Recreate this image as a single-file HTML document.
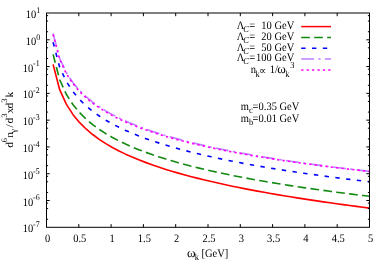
<!DOCTYPE html>
<html><head><meta charset="utf-8"><title>plot</title>
<style>
html,body{margin:0;padding:0;background:#fff;}
body{width:389px;height:273px;overflow:hidden;}
svg{display:block;}
text{font-family:"Liberation Serif",serif;fill:#000;text-rendering:geometricPrecision;}
</style></head><body>
<svg style="will-change:transform" width="389" height="273" viewBox="0 0 389 273">
<rect width="389" height="273" fill="#fff"/>

<g fill="none" stroke-width="1.62" stroke-linecap="butt" stroke-linejoin="round">
<path d="M53.09,64.37 L59.68,89.68 L66.28,104.12 L72.87,114.40 L79.46,122.40 L86.05,128.96 L92.64,134.52 L99.23,139.36 L105.83,143.63 L112.42,147.47 L119.01,150.95 L125.60,154.14 L132.19,157.09 L138.79,159.82 L145.38,162.37 L151.97,164.77 L158.56,167.02 L165.15,169.16 L171.74,171.18 L178.34,173.11 L184.93,174.95 L191.52,176.71 L198.11,178.39 L204.70,180.01 L211.30,181.57 L217.89,183.07 L224.48,184.52 L231.07,185.92 L237.66,187.27 L244.26,188.59 L250.85,189.86 L257.44,191.09 L264.03,192.30 L270.62,193.47 L277.21,194.61 L283.81,195.72 L290.40,196.80 L296.99,197.86 L303.58,198.89 L310.17,199.90 L316.77,200.88 L323.36,201.85 L329.95,202.80 L336.54,203.72 L343.13,204.63 L349.72,205.52 L356.32,206.40 L362.91,207.26 L369.50,208.10" stroke="#ff0000"/>
<path d="M53.09,54.38 L59.68,79.78 L66.28,94.26 L72.87,104.54 L79.46,112.54 L86.05,119.08 L92.64,124.62 L99.23,129.42 L105.83,133.67 L112.42,137.48 L119.01,140.93 L125.60,144.08 L132.19,146.98 L138.79,149.68 L145.38,152.19 L151.97,154.55 L158.56,156.76 L165.15,158.85 L171.74,160.83 L178.34,162.72 L184.93,164.51 L191.52,166.23 L198.11,167.87 L204.70,169.44 L211.30,170.95 L217.89,172.40 L224.48,173.81 L231.07,175.16 L237.66,176.47 L244.26,177.73 L250.85,178.96 L257.44,180.15 L264.03,181.30 L270.62,182.42 L277.21,183.51 L283.81,184.57 L290.40,185.61 L296.99,186.61 L303.58,187.60 L310.17,188.56 L316.77,189.49 L323.36,190.41 L329.95,191.31 L336.54,192.18 L343.13,193.04 L349.72,193.88 L356.32,194.71 L362.91,195.52 L369.50,196.31" stroke="#128a12" stroke-dasharray="8.63 4.36"/>
<path d="M53.09,42.25 L59.68,67.22 L66.28,81.45 L72.87,91.56 L79.46,99.41 L86.05,105.84 L92.64,111.28 L99.23,116.01 L105.83,120.18 L112.42,123.92 L119.01,127.31 L125.60,130.41 L132.19,133.27 L138.79,135.92 L145.38,138.39 L151.97,140.70 L158.56,142.88 L165.15,144.94 L171.74,146.89 L178.34,148.74 L184.93,150.50 L191.52,152.19 L198.11,153.80 L204.70,155.35 L211.30,156.83 L217.89,158.26 L224.48,159.64 L231.07,160.97 L237.66,162.26 L244.26,163.50 L250.85,164.71 L257.44,165.88 L264.03,167.01 L270.62,168.11 L277.21,169.19 L283.81,170.23 L290.40,171.25 L296.99,172.24 L303.58,173.21 L310.17,174.15 L316.77,175.07 L323.36,175.98 L329.95,176.86 L336.54,177.72 L343.13,178.57 L349.72,179.39 L356.32,180.20 L362.91,181.00 L369.50,181.78" stroke="#0000ff" stroke-dasharray="4.37 6.45"/>
<path d="M53.09,33.42 L59.68,58.33 L66.28,72.50 L72.87,82.55 L79.46,90.35 L86.05,96.73 L92.64,102.12 L99.23,106.80 L105.83,110.92 L112.42,114.61 L119.01,117.97 L125.60,121.04 L132.19,123.87 L138.79,126.49 L145.38,128.93 L151.97,131.22 L158.56,133.37 L165.15,135.40 L171.74,137.32 L178.34,139.14 L184.93,140.88 L191.52,142.53 L198.11,144.12 L204.70,145.64 L211.30,147.10 L217.89,148.50 L224.48,149.85 L231.07,151.15 L237.66,152.41 L244.26,153.63 L250.85,154.80 L257.44,155.94 L264.03,157.05 L270.62,158.13 L277.21,159.17 L283.81,160.19 L290.40,161.18 L296.99,162.14 L303.58,163.08 L310.17,164.00 L316.77,164.89 L323.36,165.77 L329.95,166.62 L336.54,167.46 L343.13,168.27 L349.72,169.07 L356.32,169.86 L362.91,170.62 L369.50,171.38" stroke="#c080ff" stroke-dasharray="12.9 4.34 2.17 4.34"/>
<path d="M53.09,34.42 L59.68,59.33 L66.28,73.50 L72.87,83.55 L79.46,91.35 L86.05,97.73 L92.64,103.12 L99.23,107.80 L105.83,111.92 L112.42,115.61 L119.01,118.95 L125.60,121.99 L132.19,124.80 L138.79,127.40 L145.38,129.82 L151.97,132.08 L158.56,134.21 L165.15,136.21 L171.74,138.11 L178.34,139.91 L184.93,141.63 L191.52,143.26 L198.11,144.82 L204.70,146.32 L211.30,147.75 L217.89,149.13 L224.48,150.46 L231.07,151.74 L237.66,152.98 L244.26,154.17 L250.85,155.33 L257.44,156.45 L264.03,157.53 L270.62,158.58 L277.21,159.61 L283.81,160.60 L290.40,161.57 L296.99,162.51 L303.58,163.42 L310.17,164.32 L316.77,165.19 L323.36,166.04 L329.95,166.88 L336.54,167.69 L343.13,168.48 L349.72,169.26 L356.32,170.02 L362.91,170.77 L369.50,171.50" stroke="#ff00ff" stroke-dasharray="2.25 3.16"/>
<path d="M301.2,26.6 L331.0,26.6" stroke="#ff0000" stroke-width="1.5"/>
<path d="M301.2,37.4 L331.0,37.4" stroke="#128a12" stroke-width="1.5" stroke-dasharray="8.63 4.36"/>
<path d="M301.2,48.3 L331.0,48.3" stroke="#0000ff" stroke-width="1.5" stroke-dasharray="4.37 6.45"/>
<path d="M301.2,59.0 L331.0,59.0" stroke="#c080ff" stroke-width="1.5" stroke-dasharray="12.9 4.34 2.17 4.34"/>
<path d="M301.2,70.0 L331.0,70.0" stroke="#ff00ff" stroke-width="1.5" stroke-dasharray="2.25 3.16"/>
</g>
<g fill="none" stroke="#000" stroke-width="1.0">
<rect x="46.5" y="13.0" width="323.00" height="214.30"/>
<path d="M46.5,31.72h1.6 M369.5,31.72h-1.6 M46.5,21.06h1.6 M369.5,21.06h-1.6 M46.5,15.60h1.6 M369.5,15.60h-1.6 M46.5,39.79h3.2 M369.5,39.79h-3.2 M46.5,58.51h1.6 M369.5,58.51h-1.6 M46.5,47.85h1.6 M369.5,47.85h-1.6 M46.5,42.38h1.6 M369.5,42.38h-1.6 M46.5,66.58h3.2 M369.5,66.58h-3.2 M46.5,85.30h1.6 M369.5,85.30h-1.6 M46.5,74.64h1.6 M369.5,74.64h-1.6 M46.5,69.17h1.6 M369.5,69.17h-1.6 M46.5,93.36h3.2 M369.5,93.36h-3.2 M46.5,112.09h1.6 M369.5,112.09h-1.6 M46.5,101.43h1.6 M369.5,101.43h-1.6 M46.5,95.96h1.6 M369.5,95.96h-1.6 M46.5,120.15h3.2 M369.5,120.15h-3.2 M46.5,138.87h1.6 M369.5,138.87h-1.6 M46.5,128.21h1.6 M369.5,128.21h-1.6 M46.5,122.75h1.6 M369.5,122.75h-1.6 M46.5,146.94h3.2 M369.5,146.94h-3.2 M46.5,165.66h1.6 M369.5,165.66h-1.6 M46.5,155.00h1.6 M369.5,155.00h-1.6 M46.5,149.53h1.6 M369.5,149.53h-1.6 M46.5,173.73h3.2 M369.5,173.73h-3.2 M46.5,192.45h1.6 M369.5,192.45h-1.6 M46.5,181.79h1.6 M369.5,181.79h-1.6 M46.5,176.32h1.6 M369.5,176.32h-1.6 M46.5,200.51h3.2 M369.5,200.51h-3.2 M46.5,219.24h1.6 M369.5,219.24h-1.6 M46.5,208.58h1.6 M369.5,208.58h-1.6 M46.5,203.11h1.6 M369.5,203.11h-1.6 M78.80,227.3v-3.2 M78.80,13.0v3.2 M111.10,227.3v-3.2 M111.10,13.0v3.2 M143.40,227.3v-3.2 M143.40,13.0v3.2 M175.70,227.3v-3.2 M175.70,13.0v3.2 M208.00,227.3v-3.2 M208.00,13.0v3.2 M240.30,227.3v-3.2 M240.30,13.0v3.2 M272.60,227.3v-3.2 M272.60,13.0v3.2 M304.90,227.3v-3.2 M304.90,13.0v3.2 M337.20,227.3v-3.2 M337.20,13.0v3.2"/>
</g>
<text transform="translate(36.35,18.10) scale(1.0,1.09)" font-size="10.5" text-anchor="end" xml:space="preserve">10</text>
<text transform="translate(36.35,12.80) scale(1.0,1.09)" font-size="7.9" xml:space="preserve">1</text>
<text transform="translate(36.35,44.89) scale(1.0,1.09)" font-size="10.5" text-anchor="end" xml:space="preserve">10</text>
<text transform="translate(36.35,39.59) scale(1.0,1.09)" font-size="7.9" xml:space="preserve">0</text>
<text transform="translate(33.32,71.67) scale(1.0,1.09)" font-size="10.5" text-anchor="end" xml:space="preserve">10</text>
<text transform="translate(33.02,66.38) scale(1.0,1.09)" font-size="7.9" xml:space="preserve">-1</text>
<text transform="translate(33.32,98.46) scale(1.0,1.09)" font-size="10.5" text-anchor="end" xml:space="preserve">10</text>
<text transform="translate(33.02,93.16) scale(1.0,1.09)" font-size="7.9" xml:space="preserve">-2</text>
<text transform="translate(33.32,125.25) scale(1.0,1.09)" font-size="10.5" text-anchor="end" xml:space="preserve">10</text>
<text transform="translate(33.02,119.95) scale(1.0,1.09)" font-size="7.9" xml:space="preserve">-3</text>
<text transform="translate(33.32,152.04) scale(1.0,1.09)" font-size="10.5" text-anchor="end" xml:space="preserve">10</text>
<text transform="translate(33.02,146.74) scale(1.0,1.09)" font-size="7.9" xml:space="preserve">-4</text>
<text transform="translate(33.32,178.83) scale(1.0,1.09)" font-size="10.5" text-anchor="end" xml:space="preserve">10</text>
<text transform="translate(33.02,173.53) scale(1.0,1.09)" font-size="7.9" xml:space="preserve">-5</text>
<text transform="translate(33.32,205.61) scale(1.0,1.09)" font-size="10.5" text-anchor="end" xml:space="preserve">10</text>
<text transform="translate(33.02,200.31) scale(1.0,1.09)" font-size="7.9" xml:space="preserve">-6</text>
<text transform="translate(33.32,232.40) scale(1.0,1.09)" font-size="10.5" text-anchor="end" xml:space="preserve">10</text>
<text transform="translate(33.02,227.10) scale(1.0,1.09)" font-size="7.9" xml:space="preserve">-7</text>
<text transform="translate(47.50,241.90) scale(1.0,1.09)" font-size="10.5" text-anchor="middle" xml:space="preserve">0</text>
<text transform="translate(79.80,241.90) scale(1.0,1.09)" font-size="10.5" text-anchor="middle" xml:space="preserve">0.5</text>
<text transform="translate(112.10,241.90) scale(1.0,1.09)" font-size="10.5" text-anchor="middle" xml:space="preserve">1</text>
<text transform="translate(144.40,241.90) scale(1.0,1.09)" font-size="10.5" text-anchor="middle" xml:space="preserve">1.5</text>
<text transform="translate(176.70,241.90) scale(1.0,1.09)" font-size="10.5" text-anchor="middle" xml:space="preserve">2</text>
<text transform="translate(209.00,241.90) scale(1.0,1.09)" font-size="10.5" text-anchor="middle" xml:space="preserve">2.5</text>
<text transform="translate(241.30,241.90) scale(1.0,1.09)" font-size="10.5" text-anchor="middle" xml:space="preserve">3</text>
<text transform="translate(273.60,241.90) scale(1.0,1.09)" font-size="10.5" text-anchor="middle" xml:space="preserve">3.5</text>
<text transform="translate(305.90,241.90) scale(1.0,1.09)" font-size="10.5" text-anchor="middle" xml:space="preserve">4</text>
<text transform="translate(338.20,241.90) scale(1.0,1.09)" font-size="10.5" text-anchor="middle" xml:space="preserve">4.5</text>
<text transform="translate(370.50,241.90) scale(1.0,1.09)" font-size="10.5" text-anchor="middle" xml:space="preserve">5</text>
<text transform="translate(186.90,257.30) scale(1.0,1.0)" font-size="13.0" xml:space="preserve">ω</text>
<text transform="translate(194.80,260.45) scale(1.0,1.09)" font-size="8.4" xml:space="preserve">k</text>
<text transform="translate(201.40,257.30) scale(1.0,1.09)" font-size="10.5" xml:space="preserve">[GeV]</text>
<g transform="translate(13.1,148.0) rotate(-90)">
<text transform="translate(0.20,0.00) scale(1.09,1.0)" font-size="10.5" xml:space="preserve">d</text>
<text transform="translate(5.60,-6.40) scale(1.09,1.0)" font-size="8.2" xml:space="preserve">6</text>
<text transform="translate(10.20,0.00) scale(1.09,1.0)" font-size="10.5" xml:space="preserve">n</text>
<text transform="translate(14.90,3.15) scale(1.09,1.0)" font-size="8.4" xml:space="preserve">γ</text>
<text transform="translate(20.50,0.00) scale(1.09,1.0)" font-size="10.5" xml:space="preserve">/</text>
<text transform="translate(24.60,0.00) scale(1.09,1.0)" font-size="10.5" xml:space="preserve">d</text>
<text transform="translate(30.20,-6.40) scale(1.09,1.0)" font-size="8.2" xml:space="preserve">3</text>
<text transform="translate(34.40,0.00) scale(1.09,1.0)" font-size="10.5" xml:space="preserve">x</text>
<text transform="translate(39.50,0.00) scale(1.09,1.0)" font-size="10.5" xml:space="preserve">d</text>
<text transform="translate(45.30,-6.40) scale(1.09,1.0)" font-size="8.2" xml:space="preserve">3</text>
<text transform="translate(50.60,0.00) scale(1.09,1.0)" font-size="10.5" xml:space="preserve">k</text>
</g>
<text transform="translate(236.80,29.00) scale(1.0,1.09)" font-size="10.5" xml:space="preserve">Λ</text>
<text transform="translate(243.30,32.15) scale(1.0,1.09)" font-size="8.4" font-style="italic" xml:space="preserve">C</text>
<text transform="translate(249.30,29.00) scale(1.0,1.09)" font-size="10.5" xml:space="preserve">=</text>
<text transform="translate(256.10,29.00) scale(1.0,1.09)" font-size="10.5" xml:space="preserve">  10 GeV</text>
<text transform="translate(236.80,39.80) scale(1.0,1.09)" font-size="10.5" xml:space="preserve">Λ</text>
<text transform="translate(243.30,42.95) scale(1.0,1.09)" font-size="8.4" font-style="italic" xml:space="preserve">C</text>
<text transform="translate(249.30,39.80) scale(1.0,1.09)" font-size="10.5" xml:space="preserve">=</text>
<text transform="translate(256.10,39.80) scale(1.0,1.09)" font-size="10.5" xml:space="preserve">  20 GeV</text>
<text transform="translate(236.80,50.50) scale(1.0,1.09)" font-size="10.5" xml:space="preserve">Λ</text>
<text transform="translate(243.30,53.65) scale(1.0,1.09)" font-size="8.4" font-style="italic" xml:space="preserve">C</text>
<text transform="translate(249.30,50.50) scale(1.0,1.09)" font-size="10.5" xml:space="preserve">=</text>
<text transform="translate(256.10,50.50) scale(1.0,1.09)" font-size="10.5" xml:space="preserve">  50 GeV</text>
<text transform="translate(236.80,60.90) scale(1.0,1.09)" font-size="10.5" xml:space="preserve">Λ</text>
<text transform="translate(243.30,64.05) scale(1.0,1.09)" font-size="8.4" font-style="italic" xml:space="preserve">C</text>
<text transform="translate(249.30,60.90) scale(1.0,1.09)" font-size="10.5" xml:space="preserve">=</text>
<text transform="translate(256.10,60.90) scale(1.0,1.09)" font-size="10.5" xml:space="preserve">100 GeV</text>
<text transform="translate(250.80,73.30) scale(1.0,1.09)" font-size="10.5" xml:space="preserve">n</text>
<text transform="translate(255.40,76.75) scale(1.0,1.09)" font-size="8.4" xml:space="preserve">k</text>
<text transform="translate(259.00,73.60) scale(1.0,1.0)" font-size="10.2" xml:space="preserve">∝</text>
<text transform="translate(269.80,73.30) scale(1.0,1.09)" font-size="10.5" xml:space="preserve">1/</text>
<text transform="translate(277.20,73.30) scale(1.0,1.0)" font-size="13.0" xml:space="preserve">ω</text>
<text transform="translate(285.30,76.75) scale(1.0,1.09)" font-size="8.4" xml:space="preserve">k</text>
<text transform="translate(290.20,67.70) scale(1.0,1.09)" font-size="8.4" xml:space="preserve">3</text>
<text transform="translate(240.70,110.10) scale(1.0,1.09)" font-size="10.5" xml:space="preserve">m</text>
<text transform="translate(248.90,113.25) scale(1.0,1.09)" font-size="8.4" xml:space="preserve">c</text>
<text transform="translate(252.60,110.10) scale(1.0,1.09)" font-size="10.5" xml:space="preserve">=0.35 GeV</text>
<text transform="translate(240.70,121.50) scale(1.0,1.09)" font-size="10.5" xml:space="preserve">m</text>
<text transform="translate(248.90,124.65) scale(1.0,1.09)" font-size="8.4" xml:space="preserve">b</text>
<text transform="translate(252.60,121.50) scale(1.0,1.09)" font-size="10.5" xml:space="preserve">=0.01 GeV</text>
</svg></body></html>
